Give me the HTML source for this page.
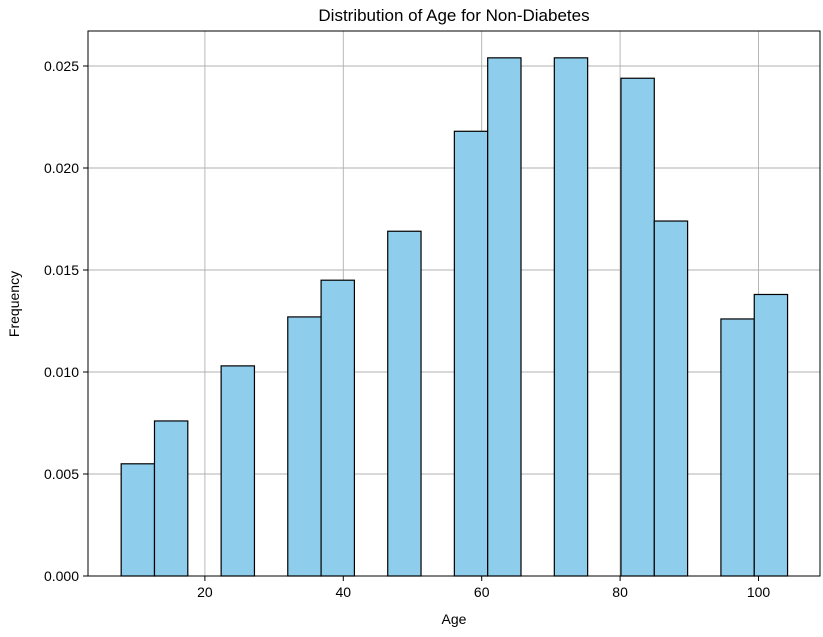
<!DOCTYPE html>
<html><head><meta charset="utf-8"><style>
body{margin:0;background:#fff;font-family:"Liberation Sans","DejaVu Sans",sans-serif;}
svg text{font-family:"Liberation Sans","DejaVu Sans",sans-serif;fill:#000;}
</style></head><body>
<svg id="c" width="823" height="632" xmlns="http://www.w3.org/2000/svg">
<text x="454" y="21" text-anchor="middle" font-size="17">Distribution of Age for Non-Diabetes</text>
<text x="454" y="624" text-anchor="middle" font-size="14">Age</text>
<text transform="translate(19,304) rotate(-90)" text-anchor="middle" font-size="14">Frequency</text>
<g id="grid"></g><g id="bars"></g><g id="axes"></g>
</svg>
<script>
const binStart = 7.9;
const binWidth = 4.815;
const freqs = [0.0055,0.0076,0,0.0103,0,0.0127,0.0145,0,0.0169,0,0.0218,0.0254,0,0.0254,0,0.0244,0.0174,0,0.0126,0.0138];
const xTicks = [20,40,60,80,100];
const yTicks = [0,0.005,0.010,0.015,0.020,0.025];
const yTickLabels = ["0.000","0.005","0.010","0.015","0.020","0.025"];
const L=88,R=820,T=31,B=576;
const sx=v=>66.5+(v)*6.92;
const sy=v=>B-v*(510/0.025);
const NS="http://www.w3.org/2000/svg";
function mk(tag,attrs,parent){const e=document.createElementNS(NS,tag);for(const k in attrs)e.setAttribute(k,attrs[k]);parent.appendChild(e);return e;}
const grid=document.getElementById('grid'),bars=document.getElementById('bars'),axes=document.getElementById('axes');
xTicks.forEach(t=>{
 const g=mk('line',{x1:sx(t),x2:sx(t),y1:T,y2:B,stroke:'#b0b0b0','stroke-width':0.9},grid);
 
 
 mk('line',{x1:sx(t),x2:sx(t),y1:B,y2:B+5,stroke:'#000'},axes);
 const tx=mk('text',{x:sx(t),y:B+21,'text-anchor':'middle','font-size':14},axes);tx.textContent=t;
 
 
});
yTicks.forEach((t,i)=>{
 const g=mk('line',{x1:L,x2:R,y1:sy(t),y2:sy(t),stroke:'#b0b0b0','stroke-width':0.9},grid);
 
 
 mk('line',{x1:L-5,x2:L,y1:sy(t),y2:sy(t),stroke:'#000'},axes);
 const tx=mk('text',{x:L-9,y:sy(t)+5,'text-anchor':'end','font-size':14},axes);tx.textContent=yTickLabels[i];
 
 
});
freqs.forEach((f,i)=>{
 if(f<=0)return;
 const x0=sx(binStart+i*binWidth),x1=sx(binStart+(i+1)*binWidth);
 const r=mk('rect',{x:x0,y:sy(f),width:x1-x0,height:B-sy(f),fill:'#8fcdec',stroke:'#000','stroke-width':1.2},bars);
 
 
});
const fr=mk('rect',{x:L,y:T,width:R-L,height:B-T,fill:'none',stroke:'#000','stroke-width':1},axes);


</script>
</body></html>
